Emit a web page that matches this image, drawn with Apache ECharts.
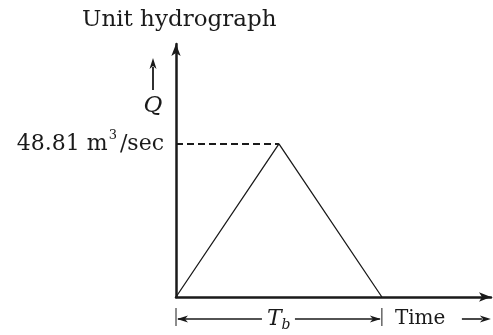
<!DOCTYPE html>
<html>
<head>
<meta charset="utf-8">
<script src="https://cdn.jsdelivr.net/npm/echarts@6/dist/echarts.min.js"></script>
<style>
  html, body { margin: 0; padding: 0; background: #fff; }
  #chart { width: 493px; height: 335px; }
</style>
</head>
<body>
<div id="chart"></div>
<script>
// triangular unit hydrograph: rise to the peak, fall back to zero at Tb
var timeValues = [0, 1, 2];
var flowValues = [0, 48.81, 0];
var peakFlow = 48.81;
var peakTime = 1;
var baseTime = 2;
var xMax = 3.06;
var yMax = 80.7;

var serif = '"DejaVu Serif", "Liberation Serif", serif';
var ink = '#1a1a1a';

var chart = echarts.init(document.getElementById('chart'));

var points = [];
for (var i = 0; i < timeValues.length; i++) {
    points.push([timeValues[i], flowValues[i]]);
}

var option = {
    animation: false,
    title: {
        text: 'Unit hydrograph',
        left: 77,
        top: 4,
        textStyle: { fontFamily: serif, fontWeight: 'normal', fontSize: 23, color: ink }
    },
    grid: { left: 176, right: 2, top: 44, bottom: 38 },
    xAxis: {
        type: 'value',
        min: 0,
        max: xMax,
        axisLine: {
            show: true,
            symbol: ['none', 'arrow'],
            symbolSize: [7, 12],
            lineStyle: { color: ink, width: 2.5 }
        },
        axisTick: { show: false },
        axisLabel: { show: false },
        splitLine: { show: false }
    },
    yAxis: {
        type: 'value',
        min: 0,
        max: yMax,
        axisLine: {
            show: true,
            symbol: ['none', 'arrow'],
            symbolSize: [7, 12],
            lineStyle: { color: ink, width: 2.5 }
        },
        axisTick: { show: false },
        axisLabel: { show: false },
        splitLine: { show: false }
    },
    series: [{
        type: 'line',
        data: points,
        symbol: 'none',
        lineStyle: { color: ink, width: 1.3 },
        markLine: {
            silent: true,
            symbol: 'none',
            lineStyle: { color: ink, width: 1.8, type: [7, 4] },
            label: {
                show: true,
                position: 'start',
                distance: 12,
                fontFamily: serif,
                fontSize: 22,
                color: ink,
                formatter: peakFlow.toFixed(2) + ' m{sup|3}/sec',
                rich: {
                    sup: { fontFamily: serif, fontSize: 13, color: ink, padding: [0, 3, 16, 1] }
                }
            },
            data: [[{ coord: [0, peakFlow] }, { coord: [peakTime, peakFlow] }]]
        }
    }]
};
chart.setOption(option);

// annotations placed from the axis positions
function arrowHead(x, y, dir) {
    // dir: 'left', 'right', 'up'
    var len = 11, half = 3.5, notch = 3;
    var pts;
    if (dir === 'right') pts = [[x, y], [x - len, y - half], [x - len + notch, y], [x - len, y + half]];
    else if (dir === 'left') pts = [[x, y], [x + len, y - half], [x + len - notch, y], [x + len, y + half]];
    else pts = [[x, y], [x - half, y + len], [x, y + len - notch], [x + half, y + len]];
    return { type: 'polygon', shape: { points: pts }, style: { fill: ink } };
}

var o = chart.convertToPixel({ gridIndex: 0 }, [0, 0]);
var e = chart.convertToPixel({ gridIndex: 0 }, [baseTime, 0]);
var dimY = o[1] + 22;
var mid = (o[0] + e[0]) / 2;
var lineStyle = { stroke: ink, lineWidth: 1.6 };

var elements = [
    // Tb dimension
    { type: 'line', shape: { x1: o[0], y1: dimY - 11, x2: o[0], y2: dimY + 7 }, style: { stroke: ink, lineWidth: 1 } },
    { type: 'line', shape: { x1: e[0], y1: dimY - 11, x2: e[0], y2: dimY + 7 }, style: { stroke: ink, lineWidth: 1 } },
    { type: 'line', shape: { x1: o[0] + 2, y1: dimY, x2: mid - 17, y2: dimY }, style: lineStyle },
    { type: 'line', shape: { x1: mid + 16, y1: dimY, x2: e[0] - 2, y2: dimY }, style: lineStyle },
    arrowHead(o[0] + 1, dimY, 'left'),
    arrowHead(e[0] - 1, dimY, 'right'),
    {
        type: 'text', x: mid - 12, y: dimY,
        style: {
            text: '{t|T}{b|b}', verticalAlign: 'middle', fill: ink,
            rich: {
                t: { fontFamily: serif, fontStyle: 'italic', fontSize: 22, fill: ink },
                b: { fontFamily: serif, fontStyle: 'italic', fontSize: 14, fill: ink, padding: [13, 0, 0, 0] }
            }
        }
    },
    // Time label with arrow
    {
        type: 'text', x: e[0] + 13, y: dimY,
        style: { text: 'Time', fontFamily: serif, fontSize: 20, fill: ink, verticalAlign: 'middle' }
    },
    { type: 'line', shape: { x1: e[0] + 80, y1: dimY, x2: e[0] + 100, y2: dimY }, style: lineStyle },
    arrowHead(e[0] + 109, dimY, 'right'),
    // Q label with arrow
    {
        type: 'text', x: o[0] - 23, y: o[1] - 191,
        style: { text: 'Q', fontFamily: serif, fontStyle: 'italic', fontSize: 23, fill: ink, align: 'center', verticalAlign: 'middle' }
    },
    { type: 'line', shape: { x1: o[0] - 23, y1: o[1] - 207, x2: o[0] - 23, y2: o[1] - 230 }, style: { stroke: ink, lineWidth: 1.8 } },
    arrowHead(o[0] - 23, o[1] - 239, 'up')
];

chart.setOption({ graphic: { elements: elements } });
</script>
</body>
</html>
